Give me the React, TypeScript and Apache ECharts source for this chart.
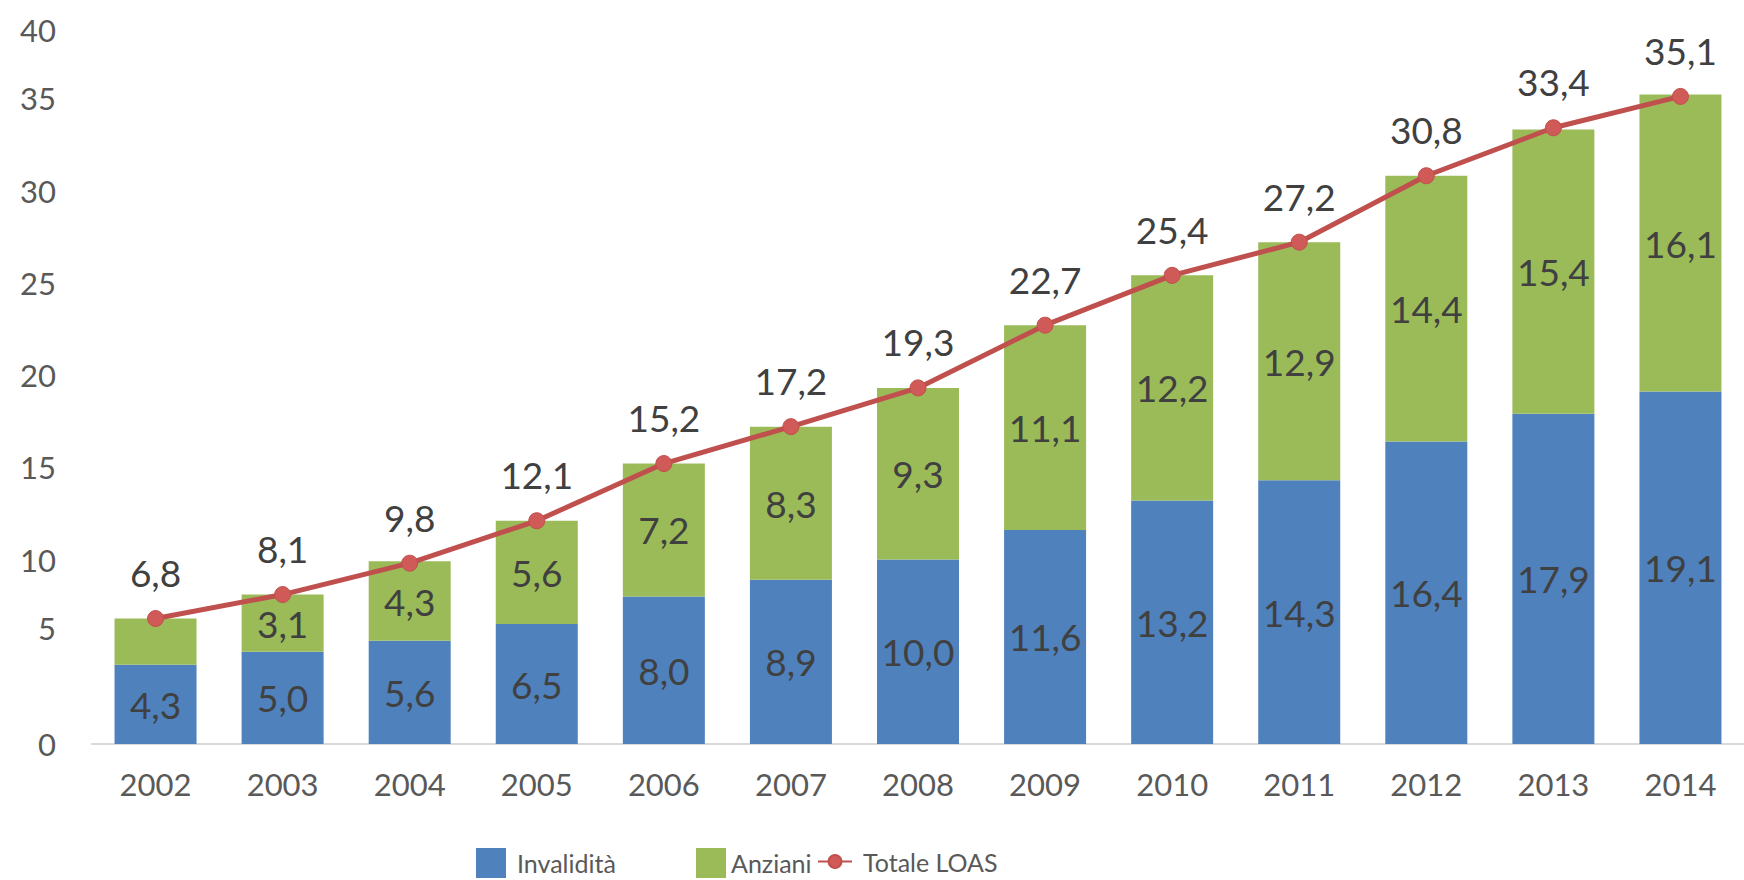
import React, { useEffect, useRef } from "react";
import * as echarts from "echarts";

const years = ["2002", "2003", "2004", "2005", "2006", "2007", "2008", "2009", "2010", "2011", "2012", "2013", "2014"];
const invalidita = [4.3, 5.0, 5.6, 6.5, 8.0, 8.9, 10.0, 11.6, 13.2, 14.3, 16.4, 17.9, 19.1];
const anziani = [2.5, 3.1, 4.3, 5.6, 7.2, 8.3, 9.3, 11.1, 12.2, 12.9, 14.4, 15.4, 16.1];
const totale = [6.8, 8.1, 9.8, 12.1, 15.2, 17.2, 19.3, 22.7, 25.4, 27.2, 30.8, 33.4, 35.1];
const hiddenAnzianiLabels = ["2002"];

const fmt = (v: number) => v.toFixed(1).replace(".", ",");
const FONT = "Lato, 'Open Sans', sans-serif";

export default function App() {
  const ref = useRef<HTMLDivElement>(null);
  useEffect(() => {
    if (!ref.current) return;
    const chart = echarts.init(ref.current, null, { renderer: "svg" });
    const labelStyle = { fontSize: 37, fontFamily: FONT, color: "#404040" };
    const tickStyle = { fontSize: 31, fontFamily: FONT, color: "#595959" };
    const legendText = { fontSize: 25, fontFamily: FONT, color: "#595959", padding: [0, 0, 0, 6] };
    chart.setOption({
      animation: false,
      backgroundColor: "#ffffff",
      grid: { left: 92, right: -7, top: 6, bottom: 136, containLabel: false },
      legend: [
        {
          data: [{ name: "Invalidità", icon: "rect" }],
          left: 471, top: 843, itemWidth: 30, itemHeight: 30, textStyle: { ...legendText, padding: [0, 0, 8, 6] },
        },
        {
          data: [{ name: "Anziani", icon: "rect" }],
          left: 691, top: 843, itemWidth: 30, itemHeight: 30, textStyle: { ...legendText, padding: [0, 0, 0, 0] },
        },
        {
          data: [{ name: "Totale LOAS" }],
          left: 812, top: 844, itemWidth: 34, itemHeight: 16, textStyle: legendText,
        },
      ],
      xAxis: {
        type: "category",
        data: years,
        axisLine: { show: true, lineStyle: { color: "#D9D9D9", width: 2 } },
        axisTick: { show: false },
        axisLabel: { ...tickStyle, margin: 24 },
      },
      yAxis: {
        type: "value",
        min: 0,
        max: 40,
        interval: 5,
        axisLine: { show: false },
        axisTick: { show: false },
        splitLine: { show: false },
        axisLabel: {
          ...tickStyle,
          margin: 36,
          formatter: (v: number) => (v === 40 ? "{a|40}" : v === 5 ? "{b|5}" : String(v)),
          rich: {
            a: { ...tickStyle, padding: [48, 0, 0, 0] },
            b: { ...tickStyle, padding: [0, 0, 48, 0] },
          },
        },
      },
      series: [
        {
          name: "Invalidità",
          type: "bar",
          stack: "tot",
          barWidth: 82,
          data: invalidita,
          itemStyle: { color: "#4F81BD" },
          label: { show: true, position: "inside", ...labelStyle, formatter: (p: any) => fmt(p.value) },
        },
        {
          name: "Anziani",
          type: "bar",
          stack: "tot",
          barWidth: 82,
          data: anziani.map((v, i) => ({
            value: v,
            label: { show: !hiddenAnzianiLabels.includes(years[i]) },
          })),
          itemStyle: { color: "#9BBB59" },
          label: { show: true, position: "inside", ...labelStyle, formatter: (p: any) => fmt(p.value) },
        },
        {
          name: "Totale LOAS",
          type: "line",
          data: totale,
          symbol: "circle",
          symbolSize: 16,
          lineStyle: { color: "#C0504D", width: 5 },
          itemStyle: { color: "#D05A57", borderColor: "#C0504D", borderWidth: 1 },
          label: { show: true, position: "top", distance: 19, ...labelStyle, formatter: (p: any) => fmt(p.value) },
          z: 5,
        },
      ],
    });
    return () => chart.dispose();
  }, []);
  return <div ref={ref} style={{ position: "fixed", left: 0, top: 0, width: 1744, height: 880 }} />;
}
